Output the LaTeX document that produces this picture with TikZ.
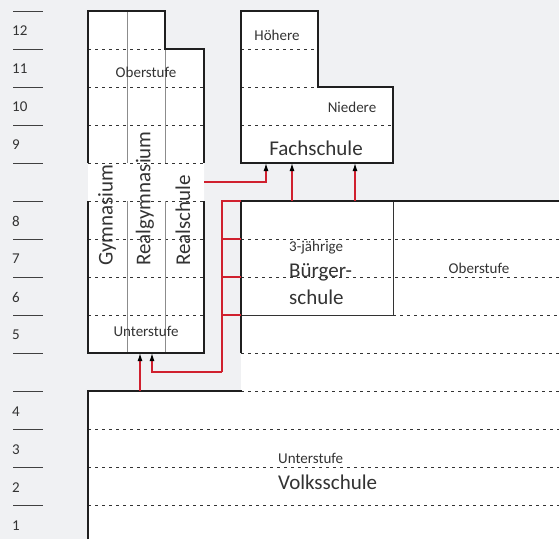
\documentclass[tikz,border=0pt]{standalone}
\usepackage{fontspec}
\setmainfont{Carlito}
\usetikzlibrary{arrows.meta,positioning}
\definecolor{bgray}{HTML}{F0F1F3}
\definecolor{linkred}{HTML}{D0202E}
\definecolor{txt}{HTML}{333333}
\tikzset{
  frame/.style={draw=black!88, line width=2.3pt, line join=miter},
  innerbox/.style={draw=black!80, line width=0.9pt},
  grade/.style={draw=black!80, line width=0.6pt, dash pattern=on 2.5pt off 4.5pt},
  divider/.style={draw=black!45, line width=1pt},
  tick/.style={draw=black!75, line width=1pt},
  link/.style={draw=linkred, line width=1.2pt},
  tip/.style={-{Latex[length=8pt,width=5pt,black]}},
  small/.style={font=\fontsize{15}{17}\selectfont, text=txt, inner sep=0pt},
  big/.style={font=\fontsize{21}{24}\selectfont, text=txt, inner sep=0pt},
}
\begin{document}
\begin{tikzpicture}[x=1pt,y=-1pt]
\useasboundingbox (0,0) rectangle (559,539);
\fill[bgray] (0,0) rectangle (559,539);
\fill[white] (88,11) -- (165,11) -- (165,49) -- (204,49) -- (204,353) -- (88,353) -- cycle;
\fill[white] (241,11) -- (318,11) -- (318,87) -- (393,87) -- (393,163) -- (241,163) -- cycle;
\fill[white] (241,201) rectangle (559,391);
\fill[white] (88,391) rectangle (559,539);

% Klassenstufen
\foreach \y in {11,49,87,125,163,201,239,277,315,353,391,429,467,505}
  \draw[tick] (13,\y) -- (43,\y);
\foreach \g/\y in {12/31,11/69,10/107,9/145,8/221,7/259,6/297,5/335,4/412,3/450,2/488,1/526}
  \node[small, anchor=west] (grade\g) at (12,\y) {\g};

% Gymnasium, Realgymnasium, Realschule
\draw[grade] (88,49) -- (165,49);
\foreach \y in {87,125,163,201,239,277,315}
  \draw[grade] (88,\y) -- (204,\y);
\foreach \x in {127,165} {
  \draw[divider] (\x,11) -- (\x,163);
  \draw[divider] (\x,201) -- (\x,353);
}
\draw[frame] (88,163) -- (88,11) -- (165,11) -- (165,49) -- (204,49) -- (204,163);
\draw[frame] (88,201) -- (88,353) -- (204,353) -- (204,201);
\node[small] (gymOber) at (146,72) {Oberstufe};
\node[small] (gymUnter) at (146,331) {Unterstufe};
\node[big, rotate=90, anchor=west] (gym) at (107,266) {Gymnasium};
\node[big, rotate=90, anchor=west] (realgym) at (145,266) {Realgymnasium};
\node[big, rotate=90, anchor=west] (real) at (183,266) {Realschule};

% Fachschule
\draw[grade] (241,49) -- (318,49);
\draw[grade] (241,87) -- (318,87);
\draw[grade] (241,125) -- (393,125);
\draw[frame] (241,163) -- (241,11) -- (318,11) -- (318,87) -- (393,87) -- (393,163) -- cycle;
\node[small] (hoehere) at (277,35) {Höhere};
\node[small] (niedere) at (352,107) {Niedere};
\node[big] (fach) at (316,148) {Fachschule};

% Buergerschule
\foreach \y in {239,277,353,391}
  \draw[grade] (241,\y) -- (559,\y);
\draw[grade] (393,315) -- (559,315);
\draw[innerbox] (241,201) rectangle (393,315);
\draw[frame] (559,201) -- (241,201) -- (241,353);
\node[small, anchor=west] (dreij) at (289,248) {3-jährige};
\node[big, anchor=west] (buerg) at (289,272) {Bürger-};
\node[big, anchor=west] (buergSchule) at (289,297) {schule};
\node[small] (buergOber) at (479,268) {Oberstufe};

% Volksschule
\foreach \y in {429,467,505}
  \draw[grade] (88,\y) -- (559,\y);
\draw[frame] (88,539) -- (88,391) -- (242,391);
\node[small, anchor=west] (volksUnter) at (278,458) {Unterstufe};
\node[big, anchor=west] (volks) at (278,482) {Volksschule};

% Uebergaenge
\coordinate (volksTop) at (140,391);
\coordinate (gymIn1) at (140,353);
\coordinate (gymIn2) at (152,353);
\coordinate (trunk) at (222,372);
\coordinate (b8) at (241,201);
\coordinate (b7) at (241,239);
\coordinate (b6) at (241,277);
\coordinate (b5) at (241,315);
\coordinate (realOut) at (204,182);
\coordinate (fachIn1) at (266,163);
\coordinate (fachIn2) at (292,163);
\coordinate (fachIn3) at (355,163);
\coordinate (buergTop1) at (292,201);
\coordinate (buergTop2) at (355,201);
\foreach \c in {b8,b7,b6,b5}
  \draw[link] (\c) -| (trunk);
\draw[link, tip] (trunk) -| (gymIn2);
\draw[link, tip] (volksTop) -- (gymIn1);
\draw[link, tip] (realOut) -| (fachIn1);
\draw[link, tip] (buergTop1) -- (fachIn2);
\draw[link, tip] (buergTop2) -- (fachIn3);
\end{tikzpicture}
\end{document}
